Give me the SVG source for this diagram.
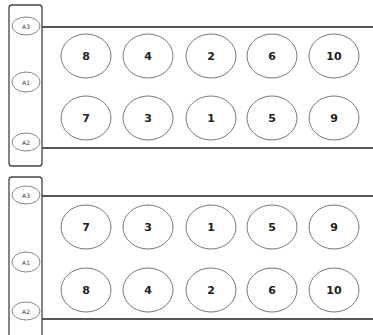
<svg xmlns="http://www.w3.org/2000/svg" width="373" height="335" viewBox="0 0 373 335">
<style>
.box{fill:none;stroke:#444;stroke-width:1.3}
.rail{stroke:#555;stroke-width:2;fill:none}
.big{fill:#fff;stroke:#777;stroke-width:1}
.small{fill:#fff;stroke:#888;stroke-width:1}
.num{font-family:"DejaVu Sans",sans-serif;font-size:11px;font-weight:bold;fill:#222;text-anchor:middle;dominant-baseline:central}
.lab{font-family:"DejaVu Sans",sans-serif;font-size:6px;fill:#333;text-anchor:middle;dominant-baseline:central}
</style>
<rect width="373" height="335" fill="#fff"/>
<g id="connectors">
<line class="rail" x1="42" y1="27" x2="373" y2="27"/>
<line class="rail" x1="42" y1="148" x2="373" y2="148"/>
<line class="rail" x1="42" y1="196" x2="373" y2="196"/>
<line class="rail" x1="42" y1="319" x2="373" y2="319"/>
</g>
<g id="panel1">
<rect class="box" x="9" y="5" width="33" height="161" rx="3"/>
<g id="a3-top"><ellipse class="small" cx="26" cy="26" rx="14" ry="9"/><text class="lab" x="26" y="26">A3</text></g>
<g id="a1-top"><ellipse class="small" cx="26" cy="82" rx="14" ry="10"/><text class="lab" x="26" y="82">A1</text></g>
<g id="a2-top"><ellipse class="small" cx="26" cy="142" rx="14" ry="9"/><text class="lab" x="26" y="142">A2</text></g>
<g id="t8"><ellipse class="big" cx="86" cy="56" rx="25" ry="22"/><text class="num" x="86" y="56">8</text></g>
<g id="t4"><ellipse class="big" cx="148" cy="56" rx="25" ry="22"/><text class="num" x="148" y="56">4</text></g>
<g id="t2"><ellipse class="big" cx="211" cy="56" rx="25" ry="22"/><text class="num" x="211" y="56">2</text></g>
<g id="t6"><ellipse class="big" cx="272" cy="56" rx="25" ry="22"/><text class="num" x="272" y="56">6</text></g>
<g id="t10"><ellipse class="big" cx="334" cy="56" rx="25" ry="22"/><text class="num" x="334" y="56">10</text></g>
<g id="t7"><ellipse class="big" cx="86" cy="118" rx="25" ry="22"/><text class="num" x="86" y="118">7</text></g>
<g id="t3"><ellipse class="big" cx="148" cy="118" rx="25" ry="22"/><text class="num" x="148" y="118">3</text></g>
<g id="t1"><ellipse class="big" cx="211" cy="118" rx="25" ry="22"/><text class="num" x="211" y="118">1</text></g>
<g id="t5"><ellipse class="big" cx="272" cy="118" rx="25" ry="22"/><text class="num" x="272" y="118">5</text></g>
<g id="t9"><ellipse class="big" cx="334" cy="118" rx="25" ry="22"/><text class="num" x="334" y="118">9</text></g>
</g>
<g id="panel2">
<rect class="box" x="9" y="177" width="33" height="170" rx="3"/>
<g id="a3-bot"><ellipse class="small" cx="26" cy="195" rx="14" ry="9"/><text class="lab" x="26" y="195">A3</text></g>
<g id="a1-bot"><ellipse class="small" cx="26" cy="262" rx="14" ry="10"/><text class="lab" x="26" y="262">A1</text></g>
<g id="a2-bot"><ellipse class="small" cx="26" cy="311" rx="14" ry="9"/><text class="lab" x="26" y="311">A2</text></g>
<g id="b7"><ellipse class="big" cx="86" cy="227" rx="25" ry="22"/><text class="num" x="86" y="227">7</text></g>
<g id="b3"><ellipse class="big" cx="148" cy="227" rx="25" ry="22"/><text class="num" x="148" y="227">3</text></g>
<g id="b1"><ellipse class="big" cx="211" cy="227" rx="25" ry="22"/><text class="num" x="211" y="227">1</text></g>
<g id="b5"><ellipse class="big" cx="272" cy="227" rx="25" ry="22"/><text class="num" x="272" y="227">5</text></g>
<g id="b9"><ellipse class="big" cx="334" cy="227" rx="25" ry="22"/><text class="num" x="334" y="227">9</text></g>
<g id="b8"><ellipse class="big" cx="86" cy="290" rx="25" ry="22"/><text class="num" x="86" y="290">8</text></g>
<g id="b4"><ellipse class="big" cx="148" cy="290" rx="25" ry="22"/><text class="num" x="148" y="290">4</text></g>
<g id="b2"><ellipse class="big" cx="211" cy="290" rx="25" ry="22"/><text class="num" x="211" y="290">2</text></g>
<g id="b6"><ellipse class="big" cx="272" cy="290" rx="25" ry="22"/><text class="num" x="272" y="290">6</text></g>
<g id="b10"><ellipse class="big" cx="334" cy="290" rx="25" ry="22"/><text class="num" x="334" y="290">10</text></g>
</g>
</svg>
